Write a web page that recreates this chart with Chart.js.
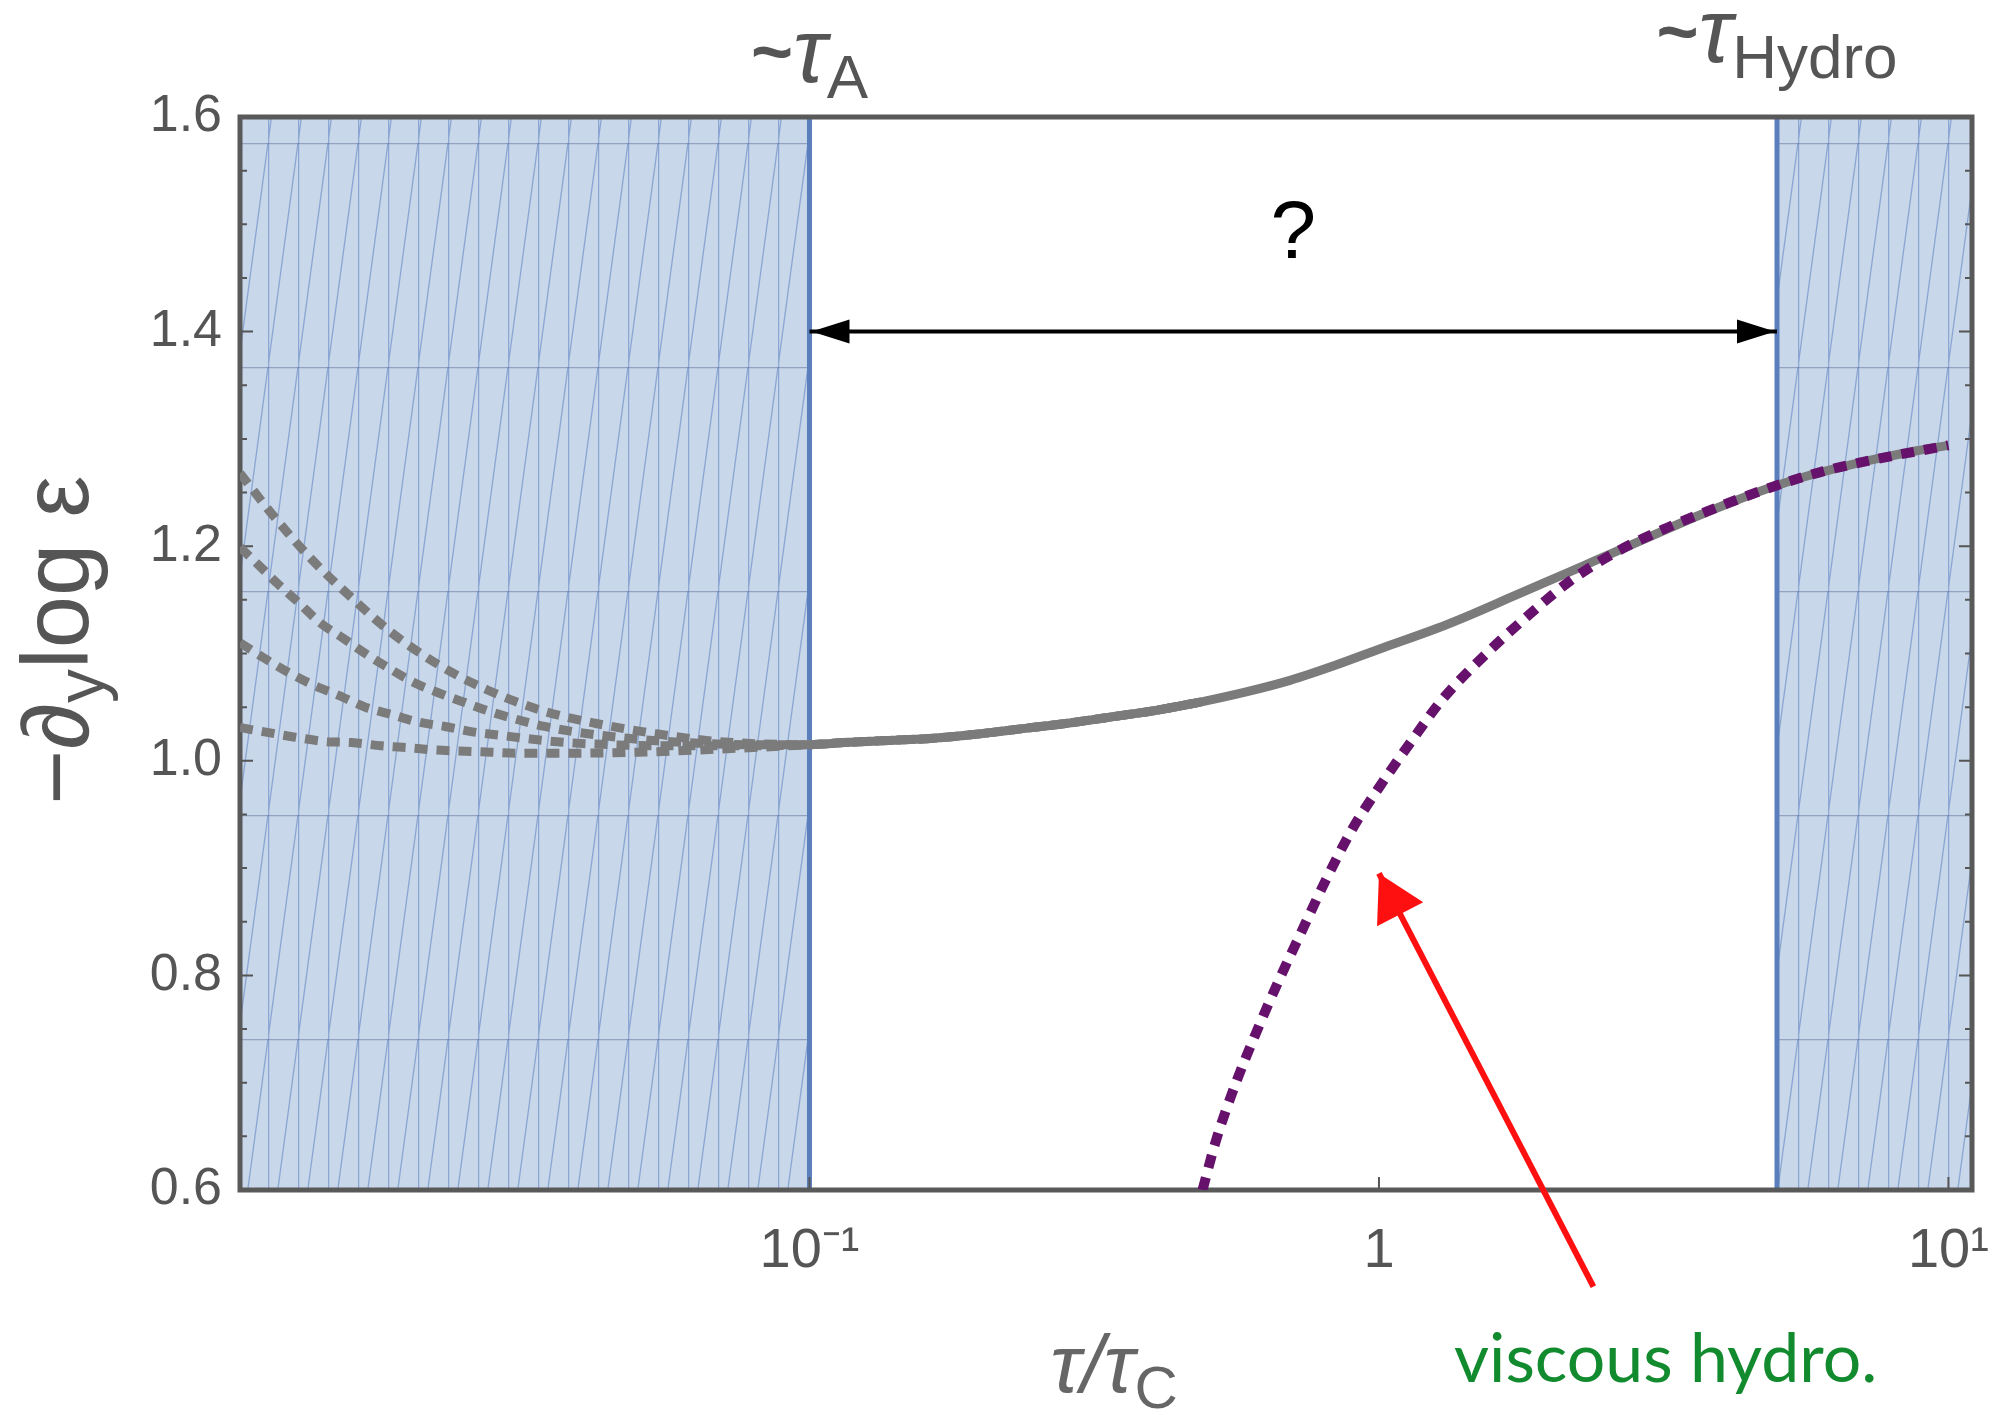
<!DOCTYPE html>
<html>
<head>
<meta charset="utf-8">
<script src="https://cdn.jsdelivr.net/npm/chart.js@4.4.1/dist/chart.umd.min.js"></script>
<style>
  html, body { margin: 0; padding: 0; background: #fff; }
  canvas { display: block; }
</style>
</head>
<body>
<canvas id="chart" width="1996" height="1415"></canvas>
<script>
// early-time curves (four initial conditions), tau/tau_C vs -d_y log eps
const initA_x = [0.0100, 0.0115, 0.0134, 0.0157, 0.0185, 0.0224, 0.0272, 0.0338, 0.0420, 0.0526, 0.0658, 0.0800];
const initA_y = [1.268, 1.227, 1.187, 1.152, 1.119, 1.089, 1.066, 1.047, 1.035, 1.026, 1.019, 1.016];
const initB_x = [0.0100, 0.0108, 0.0117, 0.0127, 0.0138, 0.0152, 0.0166, 0.0183, 0.0202, 0.0224, 0.0249, 0.0278, 0.0309, 0.0343, 0.0387, 0.0480, 0.0603, 0.0800];
const initB_y = [1.199, 1.182, 1.164, 1.147, 1.129, 1.114, 1.100, 1.086, 1.073, 1.063, 1.054, 1.045, 1.038, 1.032, 1.027, 1.021, 1.017, 1.015];
const initC_x = [0.0100, 0.0110, 0.0121, 0.0134, 0.0149, 0.0166, 0.0185, 0.0206, 0.0229, 0.0256, 0.0284, 0.0356, 0.0446, 0.0600, 0.0800];
const initC_y = [1.110, 1.096, 1.083, 1.071, 1.061, 1.050, 1.043, 1.036, 1.032, 1.027, 1.024, 1.018, 1.015, 1.014, 1.014];
const initD_x = [0.0100, 0.0113, 0.0125, 0.0141, 0.0157, 0.0177, 0.0199, 0.0221, 0.0249, 0.0276, 0.0306, 0.0340, 0.0500, 0.0700];
const initD_y = [1.031, 1.026, 1.022, 1.018, 1.017, 1.014, 1.012, 1.010, 1.009, 1.008, 1.007, 1.007, 1.008, 1.011];

// common attractor all curves collapse onto
const attractor_x = [0.100, 0.115, 0.138, 0.165, 0.198, 0.237, 0.284, 0.340, 0.406, 0.488, 0.582, 0.698, 0.838, 1.000, 1.259, 1.462, 1.698, 1.972, 2.291, 2.661, 3.083, 3.581, 4.159, 4.831, 5.610, 6.516, 7.568, 8.790, 10.00];
const attractor_y = [1.015, 1.017, 1.019, 1.021, 1.025, 1.030, 1.035, 1.041, 1.047, 1.055, 1.064, 1.075, 1.089, 1.104, 1.123, 1.137, 1.152, 1.167, 1.182, 1.197, 1.212, 1.227, 1.241, 1.254, 1.265, 1.274, 1.282, 1.289, 1.294];

// viscous hydro
const hydro_x = [0.490, 0.518, 0.561, 0.608, 0.668, 0.733, 0.807, 0.897, 1.000, 1.143, 1.291, 1.545, 1.816, 2.158, 2.618, 3.199, 3.917, 4.831, 6.039, 7.447, 9.333, 10.00];
const hydro_y = [0.600, 0.647, 0.700, 0.746, 0.796, 0.842, 0.889, 0.936, 0.975, 1.019, 1.057, 1.100, 1.134, 1.167, 1.195, 1.217, 1.236, 1.254, 1.270, 1.281, 1.291, 1.294];

// shaded windows and marker times
const shadeRanges = [[0.01, 0.1], [5, 11]];
const markerTimes = [0.1, 5];
const markerSubs = ["A", "Hydro"];

// annotation arrows
const gapArrowX = [0.1, 5];
const gapArrowY = [1.4, 1.4];
const pointerX = [2.38, 1.0];
const pointerY = [0.51, 0.895];

const xTicks = [0.1, 1, 10];
const xTickLabels = ["10\u207B\u00B9", "1", "10\u00B9"];

const pts = (xs, ys) => xs.map((x, i) => ({ x, y: ys[i] }));
const tail = pts(attractor_x, attractor_y).filter(p => p.x <= 0.5);
const grayDash = (xs, ys) => ({
  data: pts(xs, ys).concat(tail), borderColor: "#7b7b7b", borderWidth: 9,
  borderDash: [13, 9], pointRadius: 0, cubicInterpolationMode: "monotone", order: 2
});

function hatch(ctx) {
  const c = document.createElement("canvas");
  c.width = 30; c.height = 224;
  const g = c.getContext("2d");
  g.fillStyle = "#c8d7ea";
  g.fillRect(0, 0, 30, 224);
  g.strokeStyle = "rgba(90,125,190,0.55)";
  g.lineWidth = 1.3;
  g.beginPath();
  g.moveTo(0.6, 0); g.lineTo(0.6, 224);
  g.moveTo(0, 224); g.lineTo(30, 0);
  g.stroke();
  g.strokeStyle = "rgba(80,100,140,0.45)";
  g.beginPath(); g.moveTo(0, 0.6); g.lineTo(30, 0.6); g.stroke();
  return ctx.createPattern(c, "repeat");
}

function rich(ctx, parts, x, y) {
  let w = 0;
  parts.forEach(p => { ctx.font = p.font; p.w = ctx.measureText(p.t).width; w += p.w; });
  let cx = x - w / 2;
  ctx.textAlign = "left";
  ctx.textBaseline = "alphabetic";
  parts.forEach(p => { ctx.font = p.font; ctx.fillStyle = p.color; ctx.fillText(p.t, cx, y + (p.dy || 0)); cx += p.w; });
}

function head(ctx, x0, y0, x1, y1, len, half) {
  const a = Math.atan2(y1 - y0, x1 - x0);
  ctx.beginPath();
  ctx.moveTo(x1, y1);
  ctx.lineTo(x1 - len * Math.cos(a) + half * Math.sin(a), y1 - len * Math.sin(a) - half * Math.cos(a));
  ctx.lineTo(x1 - len * Math.cos(a) - half * Math.sin(a), y1 - len * Math.sin(a) + half * Math.cos(a));
  ctx.closePath();
  ctx.fill();
}

const decor = {
  id: "decor",
  beforeDatasetsDraw(chart) {
    const { ctx, chartArea: a, scales: { x, y } } = chart;
    ctx.save();
    const pat = hatch(ctx);
    pat.setTransform(new DOMMatrix([1, 0, 0, 1, a.left + 28, a.top + 26]));
    ctx.fillStyle = pat;
    shadeRanges.forEach(([lo, hi]) => {
      const x0 = Math.max(a.left, x.getPixelForValue(lo)), x1 = Math.min(a.right, x.getPixelForValue(hi));
      ctx.fillRect(x0, a.top, x1 - x0, a.bottom - a.top);
    });
    ctx.strokeStyle = "#5b7fbd";
    ctx.lineWidth = 5;
    markerTimes.forEach(t => {
      const px = x.getPixelForValue(t);
      ctx.beginPath(); ctx.moveTo(px, a.top); ctx.lineTo(px, a.bottom); ctx.stroke();
    });
    // inside ticks
    ctx.strokeStyle = "#555";
    ctx.lineWidth = 2;
    for (let v = 0.6; v <= 1.6001; v += 0.05) {
      const py = y.getPixelForValue(v), major = Math.abs(v * 5 - Math.round(v * 5)) < 1e-6, len = major ? 13 : 7;
      ctx.beginPath();
      ctx.moveTo(a.left, py); ctx.lineTo(a.left + len, py);
      ctx.moveTo(a.right, py); ctx.lineTo(a.right - len, py);
      ctx.stroke();
    }
    xTicks.forEach(t => {
      const px = x.getPixelForValue(t);
      ctx.beginPath(); ctx.moveTo(px, a.bottom); ctx.lineTo(px, a.bottom - 13); ctx.stroke();
    });
    ctx.strokeStyle = "#595959";
    ctx.lineWidth = 5;
    ctx.strokeRect(a.left, a.top, a.right - a.left, a.bottom - a.top);
    ctx.restore();
  },
  afterDatasetsDraw(chart) {
    const { ctx, chartArea: a, scales: { x, y } } = chart;
    ctx.save();
    // double arrow
    const gx0 = x.getPixelForValue(gapArrowX[0]), gx1 = x.getPixelForValue(gapArrowX[1]);
    const gy0 = y.getPixelForValue(gapArrowY[0]), gy1 = y.getPixelForValue(gapArrowY[1]);
    ctx.fillStyle = "#000";
    head(ctx, gx1, gy1, gx0 + 2, gy0, 38, 12);
    head(ctx, gx0, gy0, gx1 - 2, gy1, 38, 12);
    // red pointer head
    ctx.fillStyle = "#ff1010";
    head(ctx, x.getPixelForValue(pointerX[0]), y.getPixelForValue(pointerY[0]),
      x.getPixelForValue(pointerX[1]), y.getPixelForValue(pointerY[1]), 46, 26);
    // question mark
    ctx.fillStyle = "#000";
    ctx.font = "82px 'Liberation Sans'";
    ctx.textAlign = "center";
    ctx.textBaseline = "middle";
    ctx.fillText("?", x.getPixelForValue(Math.sqrt(markerTimes[0] * markerTimes[1])), y.getPixelForValue(1.49));
    // marker labels
    const base = [82, 62];
    markerTimes.forEach((t, i) => {
      rich(ctx, [
        { t: "~", font: "bold 72px 'Liberation Sans'", color: "#555", dy: -6 },
        { t: "\u03C4", font: "italic 90px 'Liberation Sans'", color: "#555" },
        { t: markerSubs[i], font: "62px 'Liberation Sans'", color: "#555", dy: 16 }
      ], x.getPixelForValue(t), base[i]);
    });
    // x title
    rich(ctx, [
      { t: "\u03C4/\u03C4", font: "italic 82px 'Liberation Sans'", color: "#666" },
      { t: "C", font: "60px 'Liberation Sans'", color: "#666", dy: 16 }
    ], (a.left + a.right) / 2 + 8, 1392);
    // y title
    ctx.translate(88, 640);
    ctx.rotate(-Math.PI / 2);
    rich(ctx, [
      { t: "\u2212\u2202", font: "94px 'Liberation Sans'", color: "#555" },
      { t: "y", font: "68px 'Liberation Sans'", color: "#555", dy: 16 },
      { t: "log \u03B5", font: "94px 'Liberation Sans'", color: "#555" }
    ], 0, 0);
    ctx.restore();
    // green annotation
    ctx.save();
    ctx.fillStyle = "#128a2e";
    ctx.font = "68px Lato";
    ctx.textAlign = "left";
    ctx.textBaseline = "alphabetic";
    ctx.fillText("viscous hydro.", 1454, 1382);
    ctx.restore();
  }
};

new Chart(document.getElementById("chart"), {
  type: "line",
  data: {
    datasets: [
      grayDash(initA_x, initA_y),
      grayDash(initB_x, initB_y),
      grayDash(initC_x, initC_y),
      grayDash(initD_x, initD_y),
      { data: pts(attractor_x, attractor_y).filter(p => p.x >= 0.406), borderColor: "#7b7b7b", borderWidth: 9, pointRadius: 0, cubicInterpolationMode: "monotone", order: 2 },
      { data: pts(hydro_x, hydro_y), borderColor: "#66126c", borderWidth: 10, borderDash: [13, 10], pointRadius: 0, cubicInterpolationMode: "monotone", order: 1 },
      { data: pts(gapArrowX, gapArrowY), borderColor: "#000", borderWidth: 4, pointRadius: 0, tension: 0, order: 0 },
      { data: pts(pointerX, pointerY), borderColor: "#ff1010", borderWidth: 6, pointRadius: 0, tension: 0, clip: false, order: 0 }
    ]
  },
  options: {
    responsive: false,
    animation: false,
    layout: { padding: { top: 117, right: 24, left: 0, bottom: 0 } },
    plugins: { legend: { display: false }, tooltip: { enabled: false } },
    scales: {
      x: {
        type: "logarithmic", min: 0.01, max: 11,
        grid: { display: false, drawTicks: false }, border: { display: false },
        afterBuildTicks: s => { s.ticks = xTicks.map(v => ({ value: v })); },
        afterFit: s => { s.height = 225; s.paddingLeft = 0; s.paddingRight = 0; },
        ticks: { autoSkip: false, maxRotation: 0, padding: 28, color: "#555", font: { family: "Liberation Sans", size: 56 }, callback: (v, i) => xTickLabels[i] }
      },
      y: {
        min: 0.6, max: 1.6,
        grid: { display: false, drawTicks: false }, border: { display: false },
        afterFit: s => { s.width = 240; s.paddingTop = 0; s.paddingBottom = 0; },
        ticks: { stepSize: 0.2, padding: 18, color: "#555", font: { family: "Liberation Sans", size: 52 }, callback: v => v.toFixed(1) }
      }
    }
  },
  plugins: [decor]
});
</script>
</body>
</html>
